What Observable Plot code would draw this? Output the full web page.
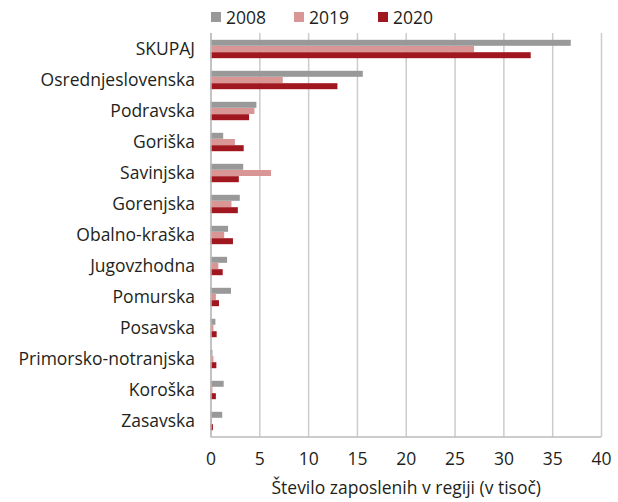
<!DOCTYPE html>
<html>
<head>
<meta charset="utf-8">
<script src="https://cdn.jsdelivr.net/npm/d3@7"></script>
<script src="https://cdn.jsdelivr.net/npm/@observablehq/plot@0.6"></script>
<style>
  body { margin: 0; background: #fff; font-family: "Open Sans", sans-serif; color: #231f20; }
  #legend { height: 28px; position: relative; font-size: 17.5px; }
  .item { position: absolute; top: 5px; display: flex; align-items: center; }
  .sw { width: 10px; height: 10px; margin-right: 5px; }
</style>
</head>
<body>
<div id="legend"></div>
<div id="chart"></div>
<script>
const regions = ["SKUPAJ", "Osrednjeslovenska", "Podravska", "Goriška", "Savinjska", "Gorenjska", "Obalno-kraška", "Jugovzhodna", "Pomurska", "Posavska", "Primorsko-notranjska", "Koroška", "Zasavska"];
const years = ["2008", "2019", "2020"];
const colors = ["#999999", "#d99694", "#a0171f"];
const v2008 = [36.9, 15.6, 4.7, 1.3, 3.35, 3.0, 1.8, 1.7, 2.1, 0.5, 0.2, 1.35, 1.2];
const v2019 = [27.0, 7.4, 4.5, 2.5, 6.2, 2.15, 1.4, 0.8, 0.55, 0.3, 0.3, 0.2, 0.15];
const v2020 = [32.8, 13.0, 3.95, 3.4, 2.9, 2.8, 2.3, 1.25, 0.87, 0.63, 0.6, 0.55, 0.25];
const xTicks = [0, 5, 10, 15, 20, 25, 30, 35, 40];
const xLabel = "Število zaposlenih v regiji (v tisoč)";

const series = [v2008, v2019, v2020];
const data = [];
years.forEach((yr, j) => regions.forEach((r, i) => data.push({region: r, year: yr, value: series[j][i]})));

// legend
const legend = document.getElementById("legend");
const legendX = [211, 294, 378];
years.forEach((yr, j) => {
  const d = document.createElement("div");
  d.className = "item";
  d.style.left = legendX[j] + "px";
  d.innerHTML = `<span class="sw" style="background:${colors[j]}"></span><span>${yr}</span>`;
  legend.appendChild(d);
});

const bh = 6.2;
const offsets = [-bh, 0, bh];
const chart = Plot.plot({
  width: 618,
  height: 474,
  marginLeft: 210.5,
  marginRight: 17,
  marginTop: 5,
  marginBottom: 65,
  style: {fontFamily: "Open Sans, sans-serif", fontSize: "17.5px", color: "#231f20", background: "#fff"},
  x: {domain: [0, 40], ticks: xTicks, label: null},
  y: {domain: regions, paddingInner: 0.8, paddingOuter: 0.4, label: null},
  marks: [
    Plot.ruleX(xTicks, {stroke: "#cccccc", strokeWidth: 1.5}),
    ...years.map((yr, j) => Plot.barX(data.filter(d => d.year === yr), {
      y: "region", x: "value", fill: colors[j], dy: offsets[j]
    })),
    Plot.ruleX([0], {stroke: "#bbbbbb", strokeWidth: 1.5}),
    Plot.ruleY([regions[regions.length - 1]], {stroke: "#bbbbbb", strokeWidth: 1.5, dy: 15.55, x1: 0, x2: 40}),
    Plot.axisX({ticks: xTicks, tickSize: 0, tickPadding: 15, fontSize: 17.5, label: null}),
    Plot.axisX({ticks: [], tickSize: 0, fontSize: 17.5, label: xLabel, labelArrow: "none", labelAnchor: "center", labelOffset: 56, dx: 8}),
    Plot.axisY({tickSize: 0, tickPadding: 16, fontSize: 17.5, label: null})
  ]
});
document.getElementById("chart").appendChild(chart);
</script>
</body>
</html>
